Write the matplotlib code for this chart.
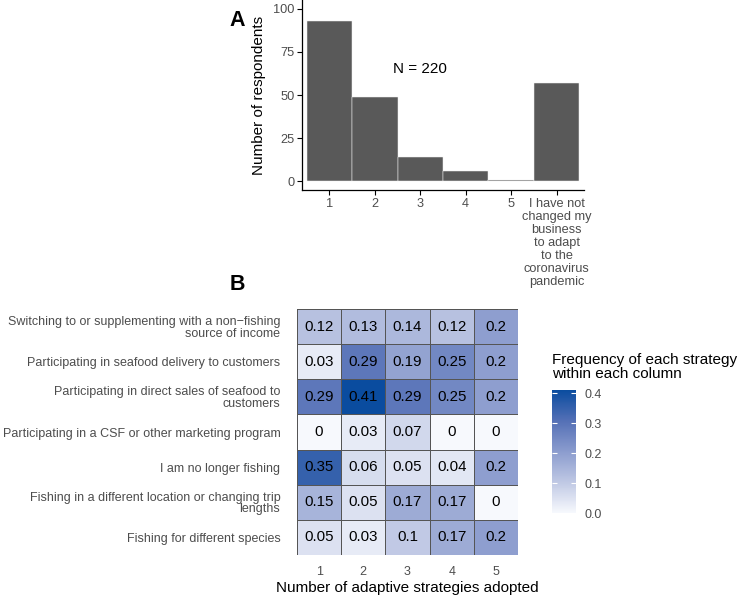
import numpy as np
import matplotlib.pyplot as plt
from matplotlib.colors import LinearSegmentedColormap

plt.rcParams['font.family'] = ['Liberation Sans', 'DejaVu Sans']

# Panel A data
n_strategies = ['1', '2', '3', '4', '5',
                'I have not\nchanged my\nbusiness\nto adapt\nto the\ncoronavirus\npandemic']
n_respondents = [93, 49, 14, 6, 1, 57]

# Panel B data
strategies = ['Switching to or supplementing with a non\u2212fishing\nsource of income',
              'Participating in seafood delivery to customers',
              'Participating in direct sales of seafood to\ncustomers',
              'Participating in a CSF or other marketing program',
              'I am no longer fishing',
              'Fishing in a different location or changing trip\nlengths',
              'Fishing for different species']
n_adopted = ['1', '2', '3', '4', '5']
freq = np.array([
    [0.12, 0.13, 0.14, 0.12, 0.2],
    [0.03, 0.29, 0.19, 0.25, 0.2],
    [0.29, 0.41, 0.29, 0.25, 0.2],
    [0, 0.03, 0.07, 0, 0],
    [0.35, 0.06, 0.05, 0.04, 0.2],
    [0.15, 0.05, 0.17, 0.17, 0],
    [0.05, 0.03, 0.1, 0.17, 0.2],
])

grey_txt = '#4D4D4D'
fig = plt.figure(figsize=(7.4, 5.96), dpi=100)

# --- A: bar chart ---
ax1 = fig.add_axes([302/740, 1 - 190/596, 282/740, 190/596])
x = np.arange(1, len(n_respondents) + 1)
ax1.bar(x, n_respondents, width=1.0, color='#595959', edgecolor='#f2f2f2', linewidth=0.35)
ax1.set_xlim(0.4, 6.6)
ax1.set_ylim(-5, 105)
ax1.set_xticks(x)
ax1.set_xticklabels(n_strategies, fontsize=9.2, color=grey_txt, linespacing=1.12)
ax1.set_yticks([0, 25, 50, 75, 100])
ax1.tick_params(labelsize=9.2, labelcolor=grey_txt, length=3.5, width=0.8, pad=2)
for s in ['top', 'right']:
    ax1.spines[s].set_visible(False)
for s in ['left', 'bottom']:
    ax1.spines[s].set_linewidth(0.9)
ax1.set_ylabel('Number of respondents', fontsize=11, labelpad=5)
ax1.text(3, 65, 'N = 220', fontsize=11, ha='center', va='center')
fig.text(237/740, 1 - 21/596, 'A', fontsize=15.5, fontweight='bold', ha='center', va='center')

# --- B: heatmap ---
cmap = LinearSegmentedColormap.from_list(
    'freq', ['#F7F9FD', '#BFC8E4', '#8B9CCE', '#5470B6', '#0A4C9F'])
ax2 = fig.add_axes([297/740, 1 - 555/596, 221/740, 246/596])
xe = np.arange(len(n_adopted) + 1) + 0.5
ye = np.arange(len(strategies) + 1) - 0.5
mesh = ax2.pcolormesh(xe, ye, freq, cmap=cmap, vmin=0, vmax=freq.max(),
                      edgecolors='#555555', linewidth=0.6)
for i in range(len(strategies)):
    for j in range(len(n_adopted)):
        ax2.text(j + 1, i, f'{freq[i, j]:g}', ha='center', va='center', fontsize=10.8)
ax2.set_xlim(0.5, 5.5)
ax2.set_ylim(6.5, -0.5)
ax2.set_xticks(np.arange(1, 6))
ax2.set_xticklabels(n_adopted)
ax2.set_yticks(np.arange(len(strategies)))
ax2.set_yticklabels(strategies, linespacing=0.95)
ax2.tick_params(axis='x', length=0, pad=8, labelsize=9, labelcolor=grey_txt)
ax2.tick_params(axis='y', length=0, pad=12, labelsize=9, labelcolor=grey_txt)
for lbl in ax2.get_yticklabels():
    lbl.set_multialignment('right')
for s in ax2.spines.values():
    s.set_visible(False)
ax2.set_xlabel('Number of adaptive strategies adopted', fontsize=11, labelpad=2)
fig.text(237/740, 1 - 285/596, 'B', fontsize=15.5, fontweight='bold', ha='center', va='center')

# colorbar legend
cax = fig.add_axes([552/740, 1 - 513/596, 24/740, 123/596])
cbar = fig.colorbar(mesh, cax=cax)
cbar.outline.set_visible(False)
ticks = [0, 0.1, 0.2, 0.3, 0.4]
cbar.set_ticks(ticks)
cbar.set_ticklabels([f'{t:.1f}' for t in ticks])
cax.tick_params(length=0, labelsize=9, labelcolor=grey_txt, pad=6)
tr = cax.get_yaxis_transform()
cax.hlines(ticks, 0, 0.2, transform=tr, color='white', linewidth=0.8)
cax.hlines(ticks, 0.8, 1, transform=tr, color='white', linewidth=0.8)
fig.text(552/740, 1 - 367/596, 'Frequency of each strategy\nwithin each column',
         fontsize=11, ha='left', va='center', linespacing=1.05)

fig.savefig('out.png', dpi=100)
